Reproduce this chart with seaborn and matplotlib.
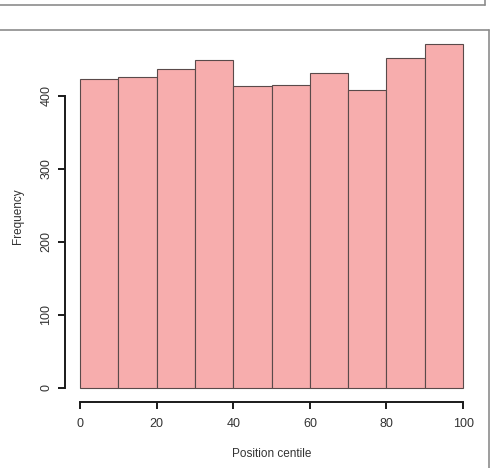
import numpy as np
import pandas as pd
import matplotlib
matplotlib.use('Agg')
import matplotlib.pyplot as plt
import seaborn as sns
from matplotlib.lines import Line2D

# counts per 10-centile bin
bin_edges = [0, 10, 20, 30, 40, 50, 60, 70, 80, 90, 100]
bin_mids = [5, 15, 25, 35, 45, 55, 65, 75, 85, 95]
counts = [423, 426, 437, 449, 413, 414, 431, 408, 451, 470]
x_ticks = [0, 20, 40, 60, 80, 100]
y_ticks = [0, 100, 200, 300, 400]

df = pd.DataFrame({'centile': bin_mids, 'n': counts})

sns.set_style('white')
plt.rcParams['font.family'] = ['Liberation Sans', 'DejaVu Sans']

fig = plt.figure(figsize=(4.91, 4.68), dpi=100)
ax = fig.add_axes([0.1318, 0.1417, 0.8426, 0.7927])

sns.histplot(data=df, x='centile', weights='n', bins=bin_edges, ax=ax,
             color='#f7adad', alpha=1, edgecolor='#5a4a4a', linewidth=0.8)

# R-like axis ranges (4% padding)
ax.set_xlim(-4, 104)
ax.set_ylim(-0.04 * max(counts), 1.04 * max(counts))

ax.set_xticks(x_ticks)
ax.set_yticks(y_ticks)
ax.set_yticklabels([str(v) for v in y_ticks], rotation=90, va='center')
ax.tick_params(axis='both', direction='out', length=5, width=1.4, color='#1a1a1a',
               labelsize=9, labelcolor='#333333', bottom=True, left=True)
ax.tick_params(axis='x', pad=7)
ax.tick_params(axis='y', pad=4)

for side in ['top', 'right']:
    ax.spines[side].set_visible(False)
for side in ['left', 'bottom']:
    ax.spines[side].set_linewidth(1.4)
    ax.spines[side].set_color('#1a1a1a')
ax.spines['bottom'].set_bounds(0, 100)
ax.spines['left'].set_bounds(0, 400)

ax.set_xlabel('Position centile', fontsize=8.5, color='#333333', labelpad=13)
ax.set_ylabel('Frequency', fontsize=8.5, color='#333333', labelpad=12)

# panel frames seen around the chart
frame = '#8c8c8c'
W, H = 491, 468
def fx(px):
    return px / W
def fy(py):
    return 1 - py / H
fig.add_artist(Line2D([fx(0), fx(485)], [fy(5), fy(5)], color=frame, lw=1.2))
fig.add_artist(Line2D([fx(485), fx(485)], [fy(5), fy(0)], color=frame, lw=1.2))
fig.add_artist(Line2D([fx(0), fx(489)], [fy(30), fy(30)], color=frame, lw=1.2))
fig.add_artist(Line2D([fx(489), fx(489)], [fy(30), fy(468)], color=frame, lw=1.2))

fig.savefig('out.png', dpi=100)
